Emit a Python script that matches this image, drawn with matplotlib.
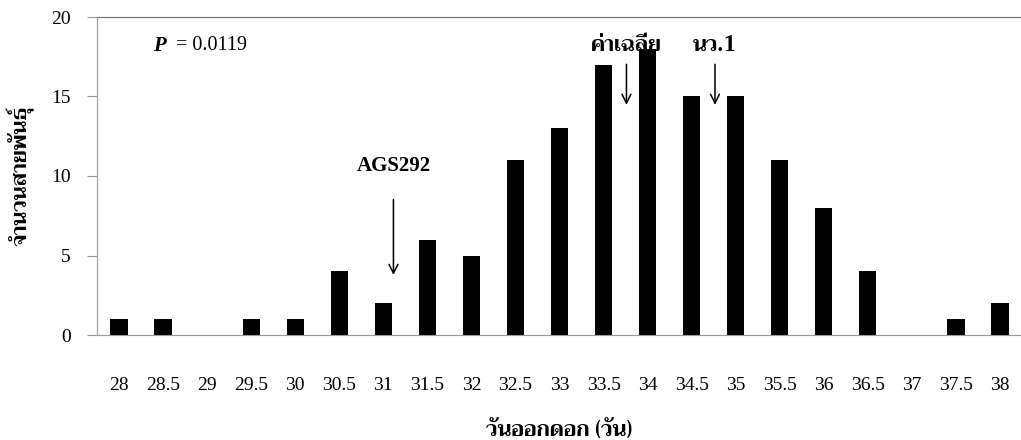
import matplotlib
matplotlib.use("Agg")
import matplotlib.pyplot as plt
from matplotlib import font_manager
import numpy as np

# days to flowering (categories) and number of lines
days = ['28', '28.5', '29', '29.5', '30', '30.5', '31', '31.5', '32', '32.5', '33',
        '33.5', '34', '34.5', '35', '35.5', '36', '36.5', '37', '37.5', '38']
counts = [1, 1, 0, 1, 1, 4, 2, 6, 5, 11, 13, 17, 18, 15, 15, 11, 8, 4, 0, 1, 2]

# arrow markers: label, x position (category index), text y, arrow start, arrow end
marks = [
    ('ค่าเฉลี่ย', 11.52, 18.2, 17.2, 14.3),
    ('นว.1', 13.53, 18.2, 17.2, 14.3),
    ('AGS292', 6.23, 10.6, 8.7, 3.6),
]


# look for a font that has Thai glyphs
def thai_font():
    try:
        from fontTools.ttLib import TTFont
    except ImportError:
        return None
    best = None
    for f in font_manager.fontManager.ttflist:
        try:
            tt = TTFont(f.fname, fontNumber=0, lazy=True)
            cmap = tt.getBestCmap()
        except Exception:
            continue
        if cmap and 0x0E08 in cmap and 0x0E31 in cmap:
            if best is None or f.weight in ('bold', 700):
                best = f.name
    return best


thai = thai_font()
serif = ['Liberation Serif', 'DejaVu Serif']
thai_fam = ([thai] if thai else []) + ['DejaVu Sans']

fig = plt.figure(figsize=(10.21, 4.4), dpi=100)
ax = fig.add_axes([97 / 1021, 1 - 335 / 440, (1022 - 97) / 1021, (335 - 17) / 440])

x = np.arange(len(days))
ax.bar(x, counts, width=0.39, color='black')

ax.set_xlim(-0.5, len(days) - 0.5)
ax.set_ylim(0, 20)
ax.set_yticks([0, 5, 10, 15, 20])
ax.set_xticks(x)
ax.set_xticklabels(days)

for sp in ['left', 'bottom']:
    ax.spines[sp].set_color('#9a9a9a')
ax.spines['top'].set_color('#6a6a6a')
ax.spines['right'].set_visible(False)
ax.tick_params(axis='y', length=7, color='#9a9a9a', pad=12)
ax.tick_params(axis='x', length=0, pad=30)
for lab in ax.get_xticklabels() + ax.get_yticklabels():
    lab.set_fontfamily(serif)
    lab.set_fontsize(14)

ax.set_xlabel('วันออกดอก (วัน)', family=thai_fam, fontsize=15.5, fontweight='bold', labelpad=19)
ax.set_ylabel('จำนวนสายพันธุ์', family=thai_fam, fontsize=15.5, fontweight='bold', labelpad=12)

ax.text(0.78, 18.2, 'P', family=serif, fontsize=15, fontstyle='italic', fontweight='bold',
        va='center', ha='left')
ax.text(1.3, 18.2, '= 0.0119', family=serif, fontsize=14.5, va='center', ha='left')

for name, xp, ty, y0, y1 in marks:
    if name.isascii():
        ax.text(xp, ty, name, family=serif, fontsize=15, fontweight='bold', ha='center', va='center')
    else:
        ax.text(xp, ty, name, family=thai_fam, fontsize=15.5, fontweight='bold', ha='center', va='center')
    ax.annotate('', xy=(xp, y1), xytext=(xp, y0),
                arrowprops=dict(arrowstyle='->', color='black', lw=1.1, mutation_scale=16))

fig.savefig('out.png', dpi=100)
